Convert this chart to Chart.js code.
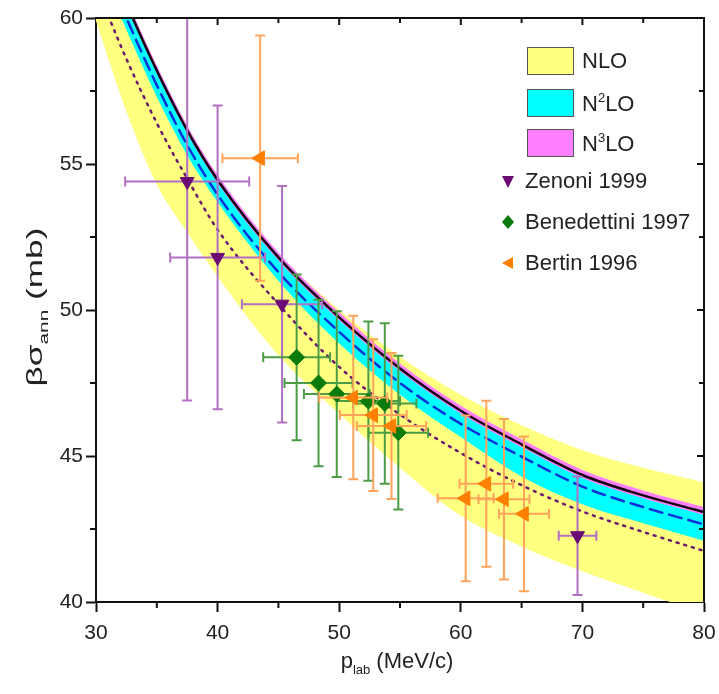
<!DOCTYPE html>
<html>
<head>
<meta charset="utf-8">
<script src="https://cdn.jsdelivr.net/npm/chart.js@4.4.0/dist/chart.umd.min.js"></script>
<style>
  body { margin: 0; background: #fff; }
  #wrap { position: relative; width: 719px; height: 694px; font-family: "Liberation Sans", Arial, sans-serif; color: #222; }
  canvas { position: absolute; left: 0; top: 0; }
  .box { position: absolute; left: 527px; width: 45px; height: 26px; border: 1.5px solid #555; }
  .lab { position: absolute; font-size: 22px; line-height: 22px; white-space: nowrap; }
  .lab sup { font-size: 13px; vertical-align: 9px; line-height: 0; }
  .title { position: absolute; font-size: 22px; white-space: nowrap; text-align: center; }
  .title sub { font-size: 13px; vertical-align: -6px; line-height: 0; }
</style>
</head>
<body>
<div id="wrap">
  <canvas id="chart" width="719" height="694"></canvas>

  <div class="box" style="top:47px;background:#ffff80"></div>
  <div class="box" style="top:89px;background:#00ffff"></div>
  <div class="box" style="top:129px;background:#ff80ff"></div>
  <div class="lab" style="left:582px;top:50px">NLO</div>
  <div class="lab" style="left:582px;top:93px">N<sup>2</sup>LO</div>
  <div class="lab" style="left:582px;top:133px">N<sup>3</sup>LO</div>
  <div class="lab" style="left:525px;top:170px">Zenoni 1999</div>
  <div class="lab" style="left:525px;top:211px">Benedettini 1997</div>
  <div class="lab" style="left:525px;top:252px">Bertin 1996</div>

  <div class="title" style="left:-115px;top:294px;width:300px;transform:rotate(-90deg) scaleX(1.6)">&beta;&sigma;<sub>ann</sub> (mb)</div>
  <div class="title" style="left:247px;top:648px;width:300px">p<sub>lab</sub> (MeV/c)</div>
</div>
<script>
// theory curves
const curveP = [30, 32.5, 35, 37.5, 40, 45, 50, 55, 60, 65, 70, 75, 80];
const nloUpper = [63.2, 60.6, 58.3, 56.3, 54.55, 51.95, 50.0, 48.4, 47.1, 46.05, 45.2, 44.6, 44.1];
const nloLower = [59.9, 56.8, 54.3, 52.66, 51.15, 48.45, 46.45, 44.6, 42.95, 41.9, 41.05, 40.32, 39.6];
const n2loUpper = [63.05, 60.55, 58.25, 56.2, 54.5, 51.85, 49.8, 48.05, 46.6, 45.45, 44.4, 43.7, 43.13];
const n2loLower = [62.0, 59.6, 57.3, 55.3, 53.7, 51.0, 48.85, 47.1, 45.65, 44.3, 43.35, 42.7, 42.1];
const n3loUpper = [63.17, 60.67, 58.37, 56.32, 54.62, 51.97, 49.92, 48.17, 46.72, 45.57, 44.52, 43.82, 43.25];
const n3loLower = [62.9, 60.4, 58.1, 56.05, 54.35, 51.7, 49.65, 47.9, 46.45, 45.3, 44.25, 43.55, 42.98];
const n3loLine = [63.0, 60.5, 58.2, 56.15, 54.45, 51.8, 49.75, 48.0, 46.55, 45.4, 44.35, 43.65, 43.08];
const n2loLine = [62.4, 60.0, 57.7, 55.65, 53.95, 51.3, 49.25, 47.5, 46.1, 44.98, 43.95, 43.25, 42.66];
const nloLine = [61.1, 58.6, 56.4, 54.5, 52.75, 50.2, 48.05, 46.42, 45.1, 44.0, 43.1, 42.4, 41.75];

// data points with errors
const zenoniP = [37.5, 40.0, 45.3, 69.6];
const zenoniSigma = [54.4, 51.8, 50.2, 42.27];
const zenoniPErr = [5.1, 3.9, 3.3, 1.55];
const zenoniSigmaErr = [7.5, 5.2, 4.05, 2.03];

const benP = [46.5, 48.3, 49.8, 52.4, 53.75, 54.86];
const benSigma = [48.38, 47.5, 47.12, 46.88, 46.8, 45.8];
const benPErr = [2.75, 2.8, 2.7, 2.6, 2.6, 2.45];
const benSigmaErr = [2.84, 2.85, 2.84, 2.73, 2.75, 2.63];

const bertinP = [43.5, 51.16, 52.8, 54.3, 60.4, 62.1, 63.55, 65.2];
const bertinSigma = [55.2, 47.0, 46.4, 46.03, 43.55, 44.05, 43.52, 43.02];
const bertinPErr = [3.1, 2.8, 2.75, 2.85, 2.3, 2.2, 2.1, 2.05];
const bertinSigmaErr = [4.2, 2.8, 2.6, 2.5, 2.84, 2.84, 2.75, 2.65];

const xTicks = [30, 40, 50, 60, 70, 80];
const yTicks = [40, 45, 50, 55, 60];

const pts = (xs, ys) => xs.map((x, i) => ({ x: x, y: ys[i] }));

function band(vals, color, fillTo, order) {
    return {
        type: 'line', data: pts(curveP, vals), borderWidth: 0, borderColor: 'transparent',
        backgroundColor: color, pointRadius: 0, fill: fillTo, order: order,
        cubicInterpolationMode: 'monotone'
    };
}

function curve(vals, color, dash, order) {
    return {
        type: 'line', data: pts(curveP, vals), borderWidth: 2.5, borderColor: color,
        borderDash: dash, borderCapStyle: dash.length ? 'round' : 'butt', pointRadius: 0, fill: false,
        order: order, cubicInterpolationMode: 'monotone'
    };
}

function points(xs, ys, ex, ey, color, barColor, style, rot, r, order) {
    return {
        type: 'scatter', data: pts(xs, ys), errX: ex, errY: ey, barColor: barColor,
        pointStyle: style, rotation: rot, pointRadius: r, backgroundColor: color,
        borderColor: color, borderWidth: 1, order: order
    };
}

// error bars drawn under each marker set
const errorBars = {
    id: 'errorBars',
    beforeDatasetDraw(chart, args) {
        const ds = chart.data.datasets[args.index];
        if (!ds.errX) return;
        const ctx = chart.ctx, xs = chart.scales.x, ys = chart.scales.y, a = chart.chartArea;
        const cap = 5;
        ctx.save();
        ctx.beginPath();
        ctx.rect(a.left, a.top, a.right - a.left, a.bottom - a.top);
        ctx.clip();
        ctx.strokeStyle = ds.barColor;
        ctx.lineWidth = 2;
        ds.data.forEach((p, i) => {
            const px = xs.getPixelForValue(p.x), py = ys.getPixelForValue(p.y);
            const x0 = xs.getPixelForValue(p.x - ds.errX[i]), x1 = xs.getPixelForValue(p.x + ds.errX[i]);
            const y0 = ys.getPixelForValue(p.y - ds.errY[i]), y1 = ys.getPixelForValue(p.y + ds.errY[i]);
            ctx.beginPath();
            ctx.moveTo(x0, py); ctx.lineTo(x1, py);
            ctx.moveTo(x0, py - cap); ctx.lineTo(x0, py + cap);
            ctx.moveTo(x1, py - cap); ctx.lineTo(x1, py + cap);
            ctx.moveTo(px, y0); ctx.lineTo(px, y1);
            ctx.moveTo(px - cap, y0); ctx.lineTo(px + cap, y0);
            ctx.moveTo(px - cap, y1); ctx.lineTo(px + cap, y1);
            ctx.stroke();
        });
        ctx.restore();
    }
};

// box frame, minor ticks, inner ticks, legend symbols
const frame = {
    id: 'frame',
    afterDraw(chart) {
        const ctx = chart.ctx, xs = chart.scales.x, ys = chart.scales.y, a = chart.chartArea;
        ctx.save();
        ctx.strokeStyle = '#111';
        ctx.lineWidth = 2;
        ctx.beginPath();
        ctx.moveTo(a.left, a.top); ctx.lineTo(a.right, a.top); ctx.lineTo(a.right, a.bottom);
        for (let v = 35; v < 80; v += 10) {
            const x = xs.getPixelForValue(v);
            ctx.moveTo(x, a.bottom); ctx.lineTo(x, a.bottom + 6);
        }
        for (let v = 35; v < 80; v += 5) {
            const x = xs.getPixelForValue(v);
            ctx.moveTo(x, a.top); ctx.lineTo(x, a.top + (v % 10 ? 5 : 7));
        }
        for (let v = 42.5; v < 60; v += 5) {
            const y = ys.getPixelForValue(v);
            ctx.moveTo(a.left, y); ctx.lineTo(a.left - 6, y);
        }
        for (let v = 42.5; v < 60; v += 2.5) {
            const y = ys.getPixelForValue(v);
            ctx.moveTo(a.right, y); ctx.lineTo(a.right - (v % 5 ? 5 : 7), y);
        }
        ctx.stroke();

        // legend symbols
        const s = 6;
        ctx.fillStyle = '#6b0a74';
        ctx.beginPath(); ctx.moveTo(508 - s, 176); ctx.lineTo(508 + s, 176); ctx.lineTo(508, 188); ctx.closePath(); ctx.fill();
        ctx.fillStyle = '#0a7a0a';
        ctx.beginPath(); ctx.moveTo(508, 215); ctx.lineTo(514, 222); ctx.lineTo(508, 229); ctx.lineTo(502, 222); ctx.closePath(); ctx.fill();
        ctx.fillStyle = '#ff7f00';
        ctx.beginPath(); ctx.moveTo(502, 263); ctx.lineTo(513, 257); ctx.lineTo(513, 269); ctx.closePath(); ctx.fill();
        ctx.restore();
    }
};

const tickFont = { family: '"Liberation Sans", Arial, sans-serif', size: 21 };

new Chart(document.getElementById('chart'), {
    type: 'scatter',
    data: {
        datasets: [
            band(nloUpper, '#ffff80', 1, 10),
            band(nloLower, 'transparent', false, 10),
            band(n2loUpper, '#00ffff', 3, 9),
            band(n2loLower, 'transparent', false, 9),
            band(n3loUpper, '#ff80ff', 5, 8),
            band(n3loLower, 'transparent', false, 8),
            curve(nloLine, '#6b1a70', [2, 6], 7),
            curve(n2loLine, '#0a32d8', [13, 7], 6),
            curve(n3loLine, '#15000f', [], 5),
            points(zenoniP, zenoniSigma, zenoniPErr, zenoniSigmaErr, '#6b0a74', '#b36fc4', 'triangle', 180, 8, 3),
            points(benP, benSigma, benPErr, benSigmaErr, '#0a7a0a', '#4c9c45', 'rectRot', 0, 8, 2),
            points(bertinP, bertinSigma, bertinPErr, bertinSigmaErr, '#ff7f00', '#ffa45a', 'triangle', 270, 8.5, 1)
        ]
    },
    options: {
        responsive: false,
        animation: false,
        layout: { padding: { top: 18, right: 15, left: 0, bottom: 0 } },
        plugins: {
            legend: { display: false },
            tooltip: { enabled: false },
            filler: { propagate: false }
        },
        scales: {
            x: {
                type: 'linear', min: 30, max: 80,
                afterBuildTicks: (s) => { s.ticks = xTicks.map(v => ({ value: v })); },
                afterFit: (s) => { s.height = 92; s.paddingLeft = 0; s.paddingRight = 0; },
                ticks: { font: tickFont, color: '#222', padding: 9 },
                grid: { display: true, drawOnChartArea: false, drawTicks: true, tickLength: 10, tickWidth: 2, color: '#111' },
                border: { display: true, width: 2, color: '#111' }
            },
            y: {
                type: 'linear', min: 40, max: 60,
                afterBuildTicks: (s) => { s.ticks = yTicks.map(v => ({ value: v })); },
                afterFit: (s) => { s.width = 96; s.paddingTop = 0; s.paddingBottom = 0; },
                ticks: { font: tickFont, color: '#222', padding: 3 },
                grid: { display: true, drawOnChartArea: false, drawTicks: true, tickLength: 10, tickWidth: 2, color: '#111' },
                border: { display: true, width: 2, color: '#111' }
            }
        }
    },
    plugins: [errorBars, frame]
});
</script>
</body>
</html>
